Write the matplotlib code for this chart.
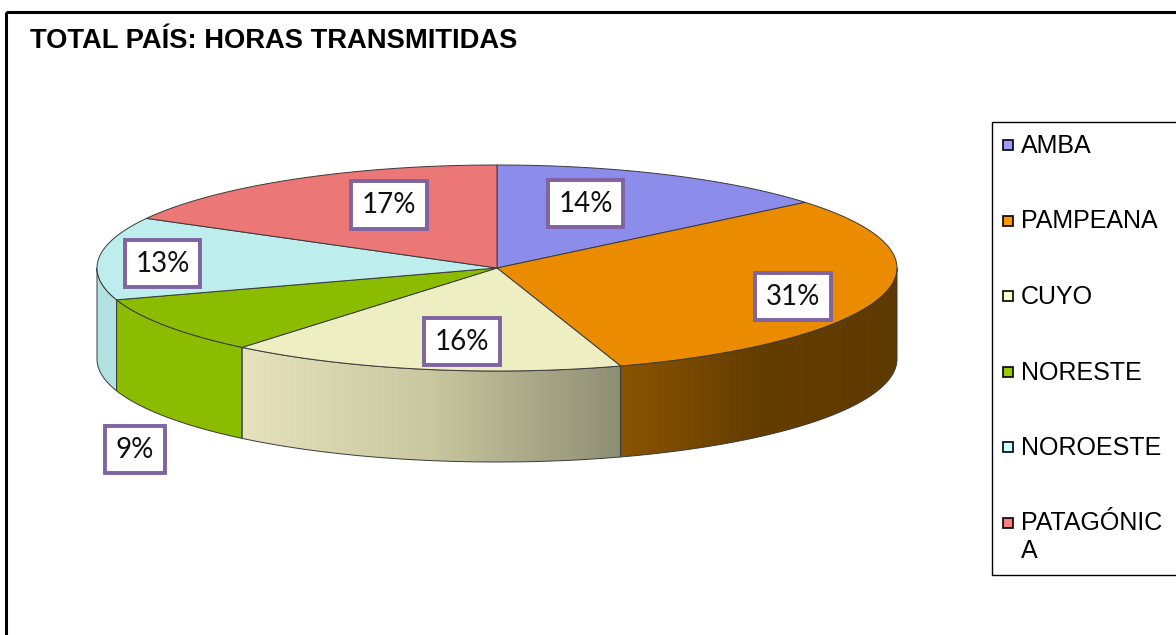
import matplotlib
matplotlib.use("Agg")
import matplotlib.pyplot as plt
import numpy as np
from matplotlib.colors import LinearSegmentedColormap, to_rgb
from matplotlib.patches import Polygon, Rectangle


TITLE = "TOTAL PAÍS: HORAS TRANSMITIDAS"
REGIONS = ["AMBA", "PAMPEANA", "CUYO", "NORESTE", "NOROESTE", "PATAGÓNICA"]
LEGEND_LABELS = ["AMBA", "PAMPEANA", "CUYO", "NORESTE", "NOROESTE", "PATAGÓNIC\nA"]
SHARES = [14, 31, 16, 9, 13, 17]

# colours: flat top of each slice, its side wall (left -> right), legend swatch
TOP_COLORS = ["#8c8ceb", "#eb8c00", "#eeeec3", "#8cbc00", "#bdeded", "#eb7777"]
SIDE_COLORS = [
    ["#8c8ceb", "#7474c8"],
    ["#8a5400", "#643d00", "#5f3a00"],
    ["#e6e3bc", "#c9c7a0", "#8e8e74"],
    ["#8cbc00", "#8cbc00"],
    ["#b3e2e3", "#b3e2e3"],
    ["#eb7777", "#c86060"],
]
SWATCH_COLORS = ["#9999ff", "#ff9900", "#ffffcc", "#99cc00", "#ccffff", "#ff8080"]

# pie geometry in pixels (figure is drawn in pixel coordinates)
CX, CY = 497, 268
RX, RY = 400, 103
DEPTH = 91
# radial factor (x, y) of every percent label, NORESTE sits outside below the wall
LABEL_R = [(0.52, 0.69), (0.77, 1.0), (0.47, 0.73), (1.094, 3.14), (0.84, 0.45), (0.53, 0.71)]

W, H = 1176, 635


def pt(theta):
    t = np.radians(theta)
    return CX + RX * np.sin(t), CY - RY * np.cos(t)


def arc(t1, t2, n=120):
    ts = np.linspace(t1, t2, n)
    x, y = pt(ts)
    return np.column_stack([x, y])


fig = plt.figure(figsize=(W / 100, H / 100), dpi=100)
ax = fig.add_axes([0, 0, 1, 1])
ax.set_xlim(0, W)
ax.set_ylim(H, 0)
ax.axis("off")

# chart frame (cut by the picture on right and bottom)
ax.add_patch(Rectangle((6, 12), W + 20, H + 20, fill=False, ec="black", lw=2.2, zorder=1))

ax.text(30, 41, TITLE, fontsize=19.7, fontweight="bold", family="Liberation Sans",
        va="center", ha="left")

bounds = np.concatenate([[0], np.cumsum(SHARES)]) / sum(SHARES) * 360
edge = "#3a3a3a"

# side walls: only the front half (90..270 deg clockwise from top) shows
for i in range(len(SHARES)):
    t1, t2 = max(bounds[i], 90), min(bounds[i + 1], 270)
    if t2 <= t1:
        continue
    top = arc(t1, t2)
    bottom = top[::-1] + [0, DEPTH]
    poly = Polygon(np.vstack([top, bottom]), closed=True, fc="none", ec=edge, lw=0.7, zorder=3)
    ax.add_patch(poly)
    x0, x1 = top[:, 0].min(), top[:, 0].max()
    cmap = LinearSegmentedColormap.from_list(f"side{i}", [to_rgb(c) for c in SIDE_COLORS[i]])
    grad = np.linspace(0, 1, 256).reshape(1, -1)
    im = ax.imshow(grad, cmap=cmap, aspect="auto", zorder=2,
                   extent=[x0, x1, CY + RY + DEPTH + 5, CY - 5], interpolation="bilinear")
    im.set_clip_path(poly)

# tops
for i in range(len(SHARES)):
    pts = np.vstack([[CX, CY], arc(bounds[i], bounds[i + 1])])
    ax.add_patch(Polygon(pts, closed=True, fc=TOP_COLORS[i], ec=edge, lw=0.7, zorder=4))

# percent labels
for i, share in enumerate(SHARES):
    mid = np.radians((bounds[i] + bounds[i + 1]) / 2)
    fx, fy = LABEL_R[i]
    lx = CX + RX * fx * np.sin(mid)
    ly = CY - RY * fy * np.cos(mid)
    ax.text(lx, ly, f"{share}%", fontsize=20, family="Lato", ha="center", va="center",
            color="#111111", zorder=6,
            bbox=dict(boxstyle="square,pad=0.38", fc="white", ec="#8064a2", lw=2.8))

# legend
ax.add_patch(Rectangle((992, 122), 200, 453, fill=False, ec="black", lw=1.0, zorder=5))
for i, label in enumerate(LEGEND_LABELS):
    y = 145 + i * 75.5
    ax.add_patch(Rectangle((1003, y - 5), 10, 10, fc=SWATCH_COLORS[i], ec="black", lw=1.2, zorder=6))
    for k, line in enumerate(label.split("\n")):
        ax.text(1021, y + 1 + k * 28, line, fontsize=18, family="Liberation Sans",
                ha="left", va="center", zorder=6)

fig.savefig("out.png", dpi=100)
